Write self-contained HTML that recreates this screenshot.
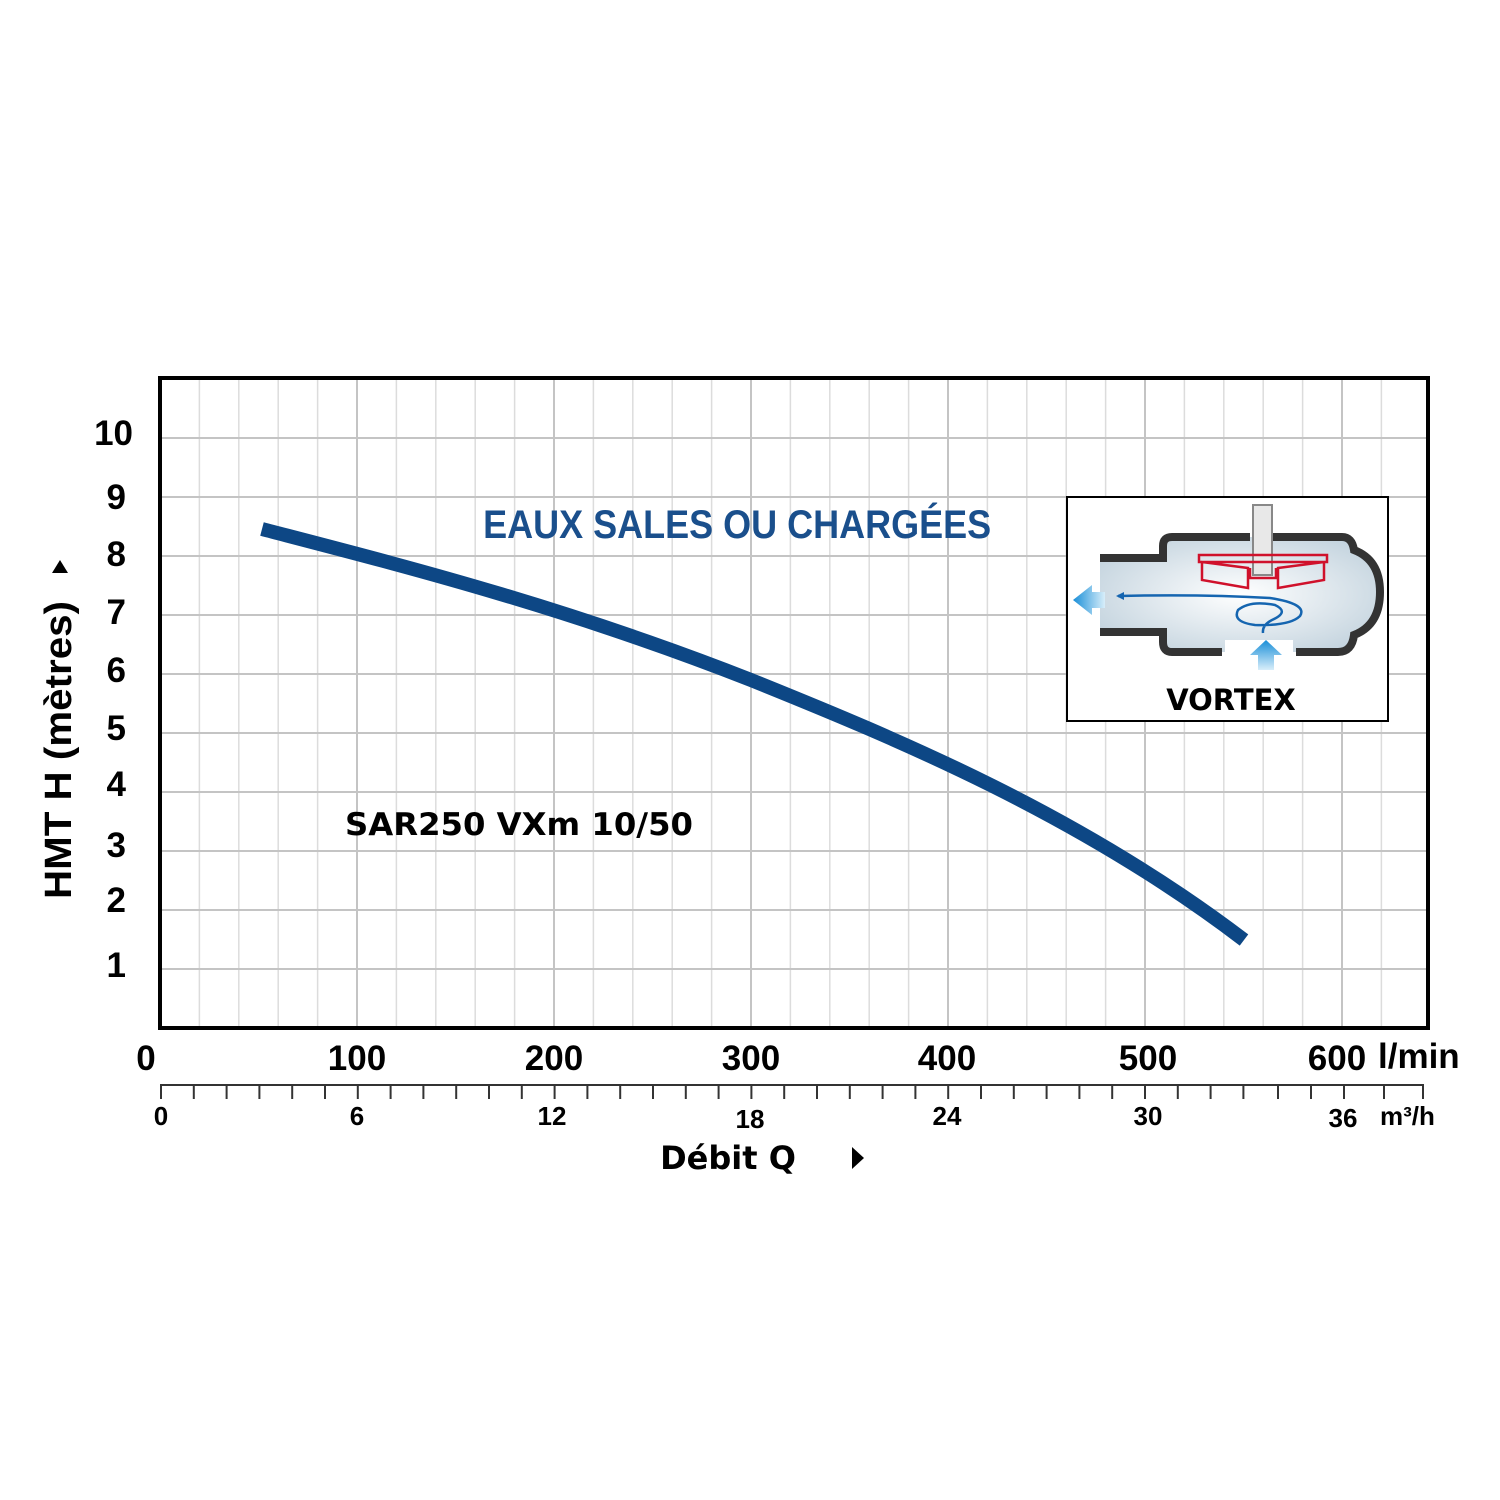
<!DOCTYPE html>
<html><head><meta charset="utf-8"><style>
html,body{margin:0;padding:0;background:#fff;}
svg{display:block;}
text{font-family:"Liberation Sans",Arial,sans-serif;font-weight:bold;}
.dv{font-family:"DejaVu Sans","Liberation Sans",sans-serif;}
</style></head><body>
<svg width="1500" height="1500" viewBox="0 0 1500 1500" xmlns="http://www.w3.org/2000/svg">
<defs>
<radialGradient id="bg" cx="0.5" cy="0.5" r="0.6">
<stop offset="0" stop-color="#ffffff"/><stop offset="1" stop-color="#c3d3de"/>
</radialGradient>
<linearGradient id="arL" x1="0" x2="1"><stop offset="0" stop-color="#1a8fd8"/><stop offset="1" stop-color="#d8eefa"/></linearGradient>
<linearGradient id="arU" x1="0" y1="0" x2="0" y2="1"><stop offset="0" stop-color="#1a8fd8"/><stop offset="1" stop-color="#d8eefa"/></linearGradient>
</defs>
<g stroke="#dcdcdc" stroke-width="1.5">
<line x1="199.4" y1="379" x2="199.4" y2="1027"/><line x1="238.8" y1="379" x2="238.8" y2="1027"/><line x1="278.2" y1="379" x2="278.2" y2="1027"/><line x1="317.6" y1="379" x2="317.6" y2="1027"/>
<line x1="396.4" y1="379" x2="396.4" y2="1027"/><line x1="435.8" y1="379" x2="435.8" y2="1027"/><line x1="475.2" y1="379" x2="475.2" y2="1027"/><line x1="514.6" y1="379" x2="514.6" y2="1027"/>
<line x1="593.4" y1="379" x2="593.4" y2="1027"/><line x1="632.8" y1="379" x2="632.8" y2="1027"/><line x1="672.2" y1="379" x2="672.2" y2="1027"/><line x1="711.6" y1="379" x2="711.6" y2="1027"/>
<line x1="790.4" y1="379" x2="790.4" y2="1027"/><line x1="829.8" y1="379" x2="829.8" y2="1027"/><line x1="869.2" y1="379" x2="869.2" y2="1027"/><line x1="908.6" y1="379" x2="908.6" y2="1027"/>
<line x1="987.4" y1="379" x2="987.4" y2="1027"/><line x1="1026.8" y1="379" x2="1026.8" y2="1027"/><line x1="1066.2" y1="379" x2="1066.2" y2="1027"/><line x1="1105.6" y1="379" x2="1105.6" y2="1027"/>
<line x1="1184.4" y1="379" x2="1184.4" y2="1027"/><line x1="1223.8" y1="379" x2="1223.8" y2="1027"/><line x1="1263.2" y1="379" x2="1263.2" y2="1027"/><line x1="1302.6" y1="379" x2="1302.6" y2="1027"/>
<line x1="1381.4" y1="379" x2="1381.4" y2="1027"/>
</g>
<g stroke="#c4c4c4" stroke-width="2">
<line x1="357" y1="379" x2="357" y2="1027"/><line x1="554" y1="379" x2="554" y2="1027"/><line x1="751" y1="379" x2="751" y2="1027"/><line x1="948" y1="379" x2="948" y2="1027"/><line x1="1145" y1="379" x2="1145" y2="1027"/><line x1="1342" y1="379" x2="1342" y2="1027"/>
<line x1="160" y1="438" x2="1428" y2="438"/><line x1="160" y1="497" x2="1428" y2="497"/><line x1="160" y1="556" x2="1428" y2="556"/><line x1="160" y1="615" x2="1428" y2="615"/><line x1="160" y1="674" x2="1428" y2="674"/><line x1="160" y1="733" x2="1428" y2="733"/><line x1="160" y1="792" x2="1428" y2="792"/><line x1="160" y1="851" x2="1428" y2="851"/><line x1="160" y1="910" x2="1428" y2="910"/><line x1="160" y1="969" x2="1428" y2="969"/>
</g>
<rect x="160" y="378" width="1268" height="650" fill="none" stroke="#000" stroke-width="4"/>
<path d="M262,529 C400,565 560,605 751,680 C900,740 1080,815 1244,940" fill="none" stroke="#0d4785" stroke-width="14"/>
<text x="737" y="538" font-size="40" fill="#1a4f8c" text-anchor="middle" transform="scale(0.9,1) translate(82,0)">EAUX SALES OU CHARGÉES</text>
<text class="dv" x="345" y="835" font-size="31" fill="#000" textLength="348" lengthAdjust="spacingAndGlyphs">SAR250 VXm 10/50</text>
<rect x="1067" y="497" width="321" height="224" fill="#fff" stroke="#000" stroke-width="2"/>
<path d="M1100,558 H1163 V546 Q1163,537 1172,537 H1342 Q1352,537 1354,550 Q1380,560 1380,592 Q1380,625 1354,635 Q1352,650 1342,652 H1293 V640 H1225 V652 H1172 Q1163,652 1163,642 V632 H1100 Z" fill="url(#bg)"/>
<path d="M1100,558 H1163 V546 Q1163,537 1172,537 H1250 M1273,537 H1342 Q1352,537 1354,550 Q1380,560 1380,592 Q1380,625 1354,635 Q1352,652 1338,652 H1296 M1222,652 H1172 Q1163,652 1163,642 V632 H1100" fill="none" stroke="#333" stroke-width="8"/>
<rect x="1253" y="505" width="19" height="70" fill="#e8e8e8" stroke="#888" stroke-width="2"/>
<path d="M1199,555 H1327 V562 H1199 Z M1202,562 L1248,568 V588 L1202,580 Z M1278,568 L1324,562 V580 L1278,588 Z M1250,568 V578 H1276 V568" fill="none" stroke="#d0112b" stroke-width="2.5"/>
<path d="M1118,596 Q1200,594 1270,598 Q1308,604 1300,616 Q1290,626 1255,625 Q1232,622 1238,610 Q1250,600 1275,605 Q1290,612 1272,620 Q1262,625 1263,633" fill="none" stroke="#1565b0" stroke-width="2.5"/>
<polygon points="1116,596 1124,592 1124,600" fill="#1565b0"/>
<polygon points="1073,600 1092,585 1092,592 1105,592 1105,608 1092,608 1092,615" fill="url(#arL)"/>
<polygon points="1266,640 1282,655 1274,655 1274,670 1258,670 1258,655 1250,655" fill="url(#arU)"/>
<text class="dv" x="1231" y="710" font-size="29" fill="#000" text-anchor="middle">VORTEX</text>
<g font-size="35" fill="#000" text-anchor="end">
<text x="133" y="445">10</text><text x="126" y="509">9</text><text x="126" y="566">8</text><text x="126" y="624">7</text><text x="126" y="682">6</text><text x="126" y="740">5</text><text x="126" y="796">4</text><text x="126" y="857">3</text><text x="126" y="912">2</text><text x="126" y="977">1</text>
</g>
<text transform="translate(71,750) rotate(-90)" font-size="38" text-anchor="middle" fill="#000" textLength="298" lengthAdjust="spacingAndGlyphs">HMT H (mètres)</text>
<polygon points="60,560 52,573 68,573" fill="#000"/>
<g font-size="35" fill="#000" text-anchor="middle">
<text x="146" y="1070">0</text><text x="357" y="1070">100</text><text x="554" y="1070">200</text><text x="751" y="1070">300</text><text x="947" y="1070">400</text><text x="1148" y="1070">500</text><text x="1337" y="1070">600</text>
</g>
<text x="1378" y="1068" font-size="35" fill="#000">l/min</text>
<line x1="160" y1="1085" x2="1424" y2="1085" stroke="#333" stroke-width="2"/>
<g stroke="#333" stroke-width="2">
<line x1="161" y1="1085" x2="161" y2="1099"/><line x1="193.8" y1="1085" x2="193.8" y2="1099"/><line x1="226.6" y1="1085" x2="226.6" y2="1099"/><line x1="259.4" y1="1085" x2="259.4" y2="1099"/><line x1="292.2" y1="1085" x2="292.2" y2="1099"/><line x1="325" y1="1085" x2="325" y2="1099"/><line x1="357.8" y1="1085" x2="357.8" y2="1099"/>
<line x1="390.6" y1="1085" x2="390.6" y2="1099"/><line x1="423.4" y1="1085" x2="423.4" y2="1099"/><line x1="456.2" y1="1085" x2="456.2" y2="1099"/><line x1="489" y1="1085" x2="489" y2="1099"/><line x1="521.8" y1="1085" x2="521.8" y2="1099"/><line x1="554.6" y1="1085" x2="554.6" y2="1099"/>
<line x1="587.4" y1="1085" x2="587.4" y2="1099"/><line x1="620.2" y1="1085" x2="620.2" y2="1099"/><line x1="653" y1="1085" x2="653" y2="1099"/><line x1="685.8" y1="1085" x2="685.8" y2="1099"/><line x1="718.6" y1="1085" x2="718.6" y2="1099"/><line x1="751.4" y1="1085" x2="751.4" y2="1099"/>
<line x1="784.2" y1="1085" x2="784.2" y2="1099"/><line x1="817" y1="1085" x2="817" y2="1099"/><line x1="849.8" y1="1085" x2="849.8" y2="1099"/><line x1="882.6" y1="1085" x2="882.6" y2="1099"/><line x1="915.4" y1="1085" x2="915.4" y2="1099"/><line x1="948.2" y1="1085" x2="948.2" y2="1099"/>
<line x1="981" y1="1085" x2="981" y2="1099"/><line x1="1013.8" y1="1085" x2="1013.8" y2="1099"/><line x1="1046.6" y1="1085" x2="1046.6" y2="1099"/><line x1="1079.4" y1="1085" x2="1079.4" y2="1099"/><line x1="1112.2" y1="1085" x2="1112.2" y2="1099"/><line x1="1145" y1="1085" x2="1145" y2="1099"/>
<line x1="1177.8" y1="1085" x2="1177.8" y2="1099"/><line x1="1210.6" y1="1085" x2="1210.6" y2="1099"/><line x1="1243.4" y1="1085" x2="1243.4" y2="1099"/><line x1="1278" y1="1085" x2="1278" y2="1099"/><line x1="1311" y1="1085" x2="1311" y2="1099"/><line x1="1344" y1="1085" x2="1344" y2="1099"/>
<line x1="1384" y1="1085" x2="1384" y2="1099"/><line x1="1423" y1="1085" x2="1423" y2="1099"/>
</g>
<g font-size="26" fill="#000" text-anchor="middle">
<text x="161" y="1125">0</text><text x="357" y="1125">6</text><text x="552" y="1125">12</text><text x="750" y="1128">18</text><text x="947" y="1125">24</text><text x="1148" y="1125">30</text><text x="1343" y="1127">36</text>
</g>
<text x="1380" y="1125" font-size="26" fill="#000">m³/h</text>
<text class="dv" x="728" y="1169" font-size="32" fill="#000" text-anchor="middle">Débit Q</text>
<polygon points="852,1147 864,1158 852,1169" fill="#000"/>
</svg>
</body></html>
